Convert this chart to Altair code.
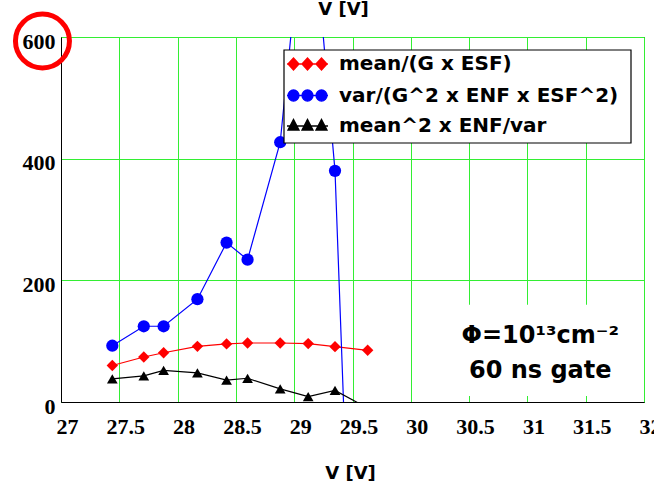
import math
import altair as alt
import pandas as pd

# ---- data ----
voltage = [27.44, 27.71, 27.88, 28.17, 28.42, 28.60, 28.88, 29.12, 29.35, 29.63]
mean_over_g_esf = [60, 74, 81, 91.5, 95.5, 97, 97, 96, 91, 85]
var_over_g2_enf_esf2 = [92.5, 124.5, 124.5, 169, 262, 234, 427, 885, 380, -1080]
mean2_enf_over_var = [38, 43, 52, 48, 36, 39, 21.5, 9, 19, -10]

series_names = ["mean/(G x ESF)", "var/(G^2 x ENF x ESF^2)", "mean^2 x ENF/var"]
series_colors = ["#ff0000", "#0000ff", "#000000"]
marker_shapes = ["diamond", "circle", "triangle-up"]
marker_sizes = [130, 150, 115]

x_ticks = [27, 27.5, 28, 28.5, 29, 29.5, 30, 30.5, 31, 31.5, 32]
y_ticks = [0, 200, 400, 600]

annot_lines = ["Φ=10¹³cm⁻²", "60 ns gate"]
annot_x = [31.11, 31.11]
annot_y = [97, 40]


# ---- legend symbol paths: a line through three markers ----
def poly(cx, pts):
    return "M" + "L".join(f"{cx + px:.3f},{py:.3f}" for px, py in pts) + "Z"


def diamond(cx):
    return poly(cx, [(-0.55, 0), (0, -0.6), (0.55, 0), (0, 0.6)])


def disc(cx):
    return poly(cx, [(0.55 * math.cos(a * math.pi / 8), 0.55 * math.sin(a * math.pi / 8)) for a in range(16)])


def tri(cx):
    return poly(cx, [(-0.55, 0.4), (0, -0.65), (0.55, 0.4)])


centers = [-1.4, 0.0, 1.4]
base_line = "M-2.05,0L2.05,0"
legend_paths = [
    base_line + "".join(diamond(c) for c in centers),
    base_line + "".join(disc(c) for c in centers),
    base_line + "".join(tri(c) for c in centers),
]

rows = []
for name, vals in zip(series_names, [mean_over_g_esf, var_over_g2_enf_esf2, mean2_enf_over_var]):
    for v, y in zip(voltage, vals):
        rows.append({"V": v, "value": y, "series": name})
df = pd.DataFrame(rows)

SANS = "DejaVu Sans"
SERIF = "Liberation Serif"
GRID = "#33ee33"

xscale = alt.Scale(domain=[27, 32], nice=False, zero=False)
yscale = alt.Scale(domain=[0, 600], nice=False, zero=False)

x_axis = alt.Axis(
    orient="bottom", values=x_ticks, title="V [V]", labelExpr="datum.value + ''",
    titleFont=SANS, titleFontSize=18, titleFontWeight="bold", titleColor="black",
    titleX=289, titleY=76, titleBaseline="alphabetic",
    labelFont=SERIF, labelFontSize=22, labelFontWeight="bold", labelColor="black",
    labelBaseline="alphabetic", labelPadding=31, labelOffset=6,
    labelFlush=False, labelOverlap=False,
    ticks=False, tickSize=0, grid=True, gridColor=GRID, gridWidth=1,
    domain=True, domainColor="black", domainWidth=1,
)
y_axis = alt.Axis(
    orient="left", values=y_ticks, title=None,
    labelFont=SERIF, labelFontSize=22, labelFontWeight="bold", labelColor="black",
    labelPadding=6, labelOffset=4, labelFlush=False, labelOverlap=False,
    ticks=False, tickSize=0, grid=True, gridColor=GRID, gridWidth=1,
    domain=True, domainColor="black", domainWidth=1,
)
top_axis = alt.Axis(
    orient="top", values=x_ticks, title="V [V]", labels=False, ticks=False, tickSize=0,
    domain=False, grid=False,
    titleFont=SANS, titleFontSize=18, titleFontWeight="bold", titleColor="black",
    titleX=282, titleY=-23, titleBaseline="alphabetic",
)

X = lambda ax=None: alt.X("V:Q", scale=xscale, axis=ax)
Y = lambda ax=None: alt.Y("value:Q", scale=yscale, axis=ax)

lines = alt.Chart(df).mark_line(strokeWidth=1.2, clip=True).encode(
    x=X(x_axis), y=Y(y_axis),
    color=alt.Color("series:N", scale=alt.Scale(domain=series_names, range=series_colors), legend=None),
)

point_layers = []
for name, col, shp, sz in zip(series_names, series_colors, marker_shapes, marker_sizes):
    point_layers.append(
        alt.Chart(df).transform_filter(alt.datum.series == name)
        .mark_point(shape=shp, filled=True, size=sz, color=col, opacity=1, clip=True)
        .encode(x=X(), y=Y())
    )

# white box behind annotation
box_df = pd.DataFrame({"x1": [30.38], "x2": [31.84], "y1": [10], "y2": [160]})
box = alt.Chart(box_df).mark_rect(color="white").encode(
    x=alt.X("x1:Q", scale=xscale, axis=None), x2="x2:Q",
    y=alt.Y("y1:Q", scale=yscale, axis=None), y2="y2:Q",
)

annot_df = pd.DataFrame({"V": annot_x, "value": annot_y, "txt": annot_lines})
annot = alt.Chart(annot_df).mark_text(
    font=SANS, fontSize=24, fontWeight="bold", color="black", baseline="alphabetic", align="center"
).encode(x=X(), y=Y(), text="txt:N")

# red highlight ring around the 600 tick label
ring_df = pd.DataFrame({"V": [26.841], "value": [593.4]})
ring = alt.Chart(ring_df).mark_point(
    shape="circle", filled=False, stroke="#ff0000", strokeWidth=5, size=2916, opacity=1
).encode(x=X(top_axis), y=Y())

# ---- legend box (guide drawn with marks, in pixels from the plot's top-left) ----
LEG_LEFT, LEG_RIGHT, LEG_TOP, LEG_BOTTOM = 223, 570, 13, 106
LEG_ROWS = [27, 58.5, 89]
LEG_SYMBOL_X = 246.5
LEG_TEXT_X = 278

leg_one = pd.DataFrame({"k": [0]})
legend_parts = [
    alt.Chart(leg_one).mark_rect(fill="white", stroke="black", strokeWidth=1.2).encode(
        x=alt.value(LEG_LEFT), x2=alt.value(LEG_RIGHT), y=alt.value(LEG_TOP), y2=alt.value(LEG_BOTTOM)
    )
]
for name, col, path, ry in zip(series_names, series_colors, legend_paths, LEG_ROWS):
    legend_parts.append(
        alt.Chart(leg_one).mark_point(
            shape=path, size=400, filled=True, fill=col, stroke=col, strokeWidth=1.3, opacity=1
        ).encode(x=alt.value(LEG_SYMBOL_X), y=alt.value(ry))
    )
    legend_parts.append(
        alt.Chart(pd.DataFrame({"label": [name]})).mark_text(
            font=SANS, fontSize=20, fontWeight="bold", color="black", align="left", baseline="middle"
        ).encode(x=alt.value(LEG_TEXT_X), y=alt.value(ry), text="label:N")
    )

chart = alt.layer(lines, *point_layers, box, annot, ring, *legend_parts).resolve_axis(
    x="independent", y="independent"
).properties(
    width=583, height=365,
    padding={"left": 61, "top": 37, "right": 10, "bottom": 83},
    autosize=alt.AutoSizeParams(type="none"),
    background="white",
).configure_view(stroke="black", strokeWidth=1)

chart.save("out.html", embed_options={"renderer": "svg", "actions": False})
